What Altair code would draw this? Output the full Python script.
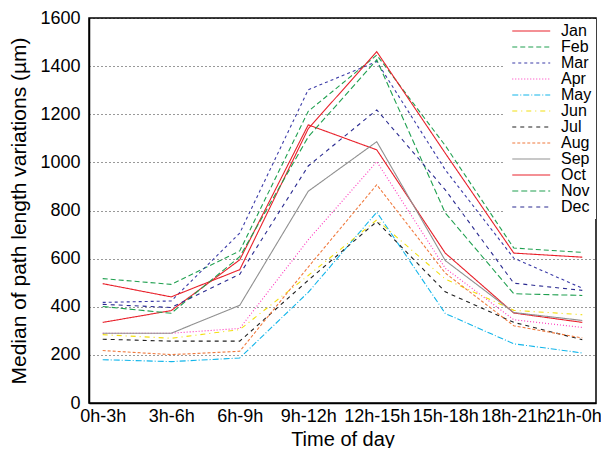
import pandas as pd
import altair as alt

# time slots and months
slots = ["0h-3h", "3h-6h", "6h-9h", "9h-12h", "12h-15h", "15h-18h", "18h-21h", "21h-0h"]
months = ["Jan", "Feb", "Mar", "Apr", "May", "Jun", "Jul", "Aug", "Sep", "Oct", "Nov", "Dec"]

# median of path length variations (um)
jan = [335, 384, 595, 1156, 1052, 623, 374, 335]
feb = [517, 493, 632, 1212, 1446, 1070, 644, 626]
mar = [418, 424, 706, 1302, 1419, 969, 602, 477]
apr = [290, 290, 310, 678, 1003, 560, 346, 314]
may = [180, 172, 187, 460, 793, 372, 246, 208]
jun = [284, 269, 305, 530, 761, 515, 385, 367]
jul = [265, 257, 257, 510, 754, 462, 335, 263]
aug = [218, 201, 215, 565, 907, 540, 321, 270]
sep = [290, 290, 406, 880, 1086, 592, 376, 343]
oct_ = [496, 441, 554, 1140, 1460, 1038, 623, 606]
nov = [401, 373, 608, 1106, 1426, 790, 454, 447]
dec = [410, 397, 535, 985, 1218, 886, 498, 468]

series = [jan, feb, mar, apr, may, jun, jul, aug, sep, oct_, nov, dec]

colores = ["#e8202a", "#20a050", "#3c3ca8", "#ff33bb", "#12b5ea", "#f2df10",
           "#202020", "#f07b3f", "#909090", "#e8202a", "#20a050", "#2a2a90"]
tracos = [[1, 0], [5, 3], [3, 3], [1, 2], [6, 2, 1, 2], [5, 4, 1, 4],
          [4, 4], [3, 2], [1, 0], [1, 0], [6, 3], [4, 4]]

df = pd.DataFrame(
    [{"Mes": m, "Hora": s, "Valor": v}
     for m, vals in zip(months, series)
     for s, v in zip(slots, vals)]
)

fonte = "Liberation Sans"

# last label would run past the right edge, nudge it a little
ajuste_ultimo = {"condition": {"test": "datum.value === '21h-0h'", "value": -9}, "value": 0}

chart = (
    alt.Chart(df)
    .mark_line(strokeWidth=1.1)
    .encode(
        x=alt.X("Hora:N", sort=slots, title="Time of day",
                scale=alt.Scale(type="point", padding=0.2),
                axis=alt.Axis(labelAngle=0, labelFontSize=18, titleFontSize=20,
                              labelPadding=4, titlePadding=4, ticks=False,
                              labelOffset=ajuste_ultimo,
                              gridDash=[1, 3], gridColor="black", gridOpacity=0.8)),
        y=alt.Y("Valor:Q", title="Median of path length variations (µm)",
                scale=alt.Scale(domain=[0, 1600]),
                axis=alt.Axis(values=list(range(0, 1601, 200)), format="d",
                              labelFontSize=18, titleFontSize=21, labelPadding=9,
                              titlePadding=10, ticks=False, gridDash=[1, 3],
                              gridColor="black", gridOpacity=0.8)),
        color=alt.Color("Mes:N", sort=months,
                        scale=alt.Scale(domain=months, range=colores),
                        legend=alt.Legend(title=None)),
        strokeDash=alt.StrokeDash("Mes:N", sort=months,
                                  scale=alt.Scale(domain=months, range=tracos),
                                  legend=alt.Legend(title=None)),
        detail="Mes:N",
    )
    .properties(width=507, height=385,
                autosize=alt.AutoSizeParams(type="none"),
                padding={"left": 81, "top": 10, "right": 5, "bottom": 45})
    .configure_view(stroke="black", strokeWidth=1.5)
    .configure_axis(labelFont=fonte, titleFont=fonte, labelColor="black",
                    titleColor="black", titleFontWeight="normal",
                    domainColor="black", domainWidth=1.5)
    .configure_legend(orient="none", legendX=416, legendY=1, fillColor="white",
                      padding=4, labelFont=fonte, labelFontSize=16,
                      labelColor="black", symbolType="M-1,0H7",
                      symbolSize=90, symbolStrokeWidth=1.1, rowPadding=0,
                      labelOffset=36)
)

chart.save("out.html", embed_options={"renderer": "svg", "actions": False})
